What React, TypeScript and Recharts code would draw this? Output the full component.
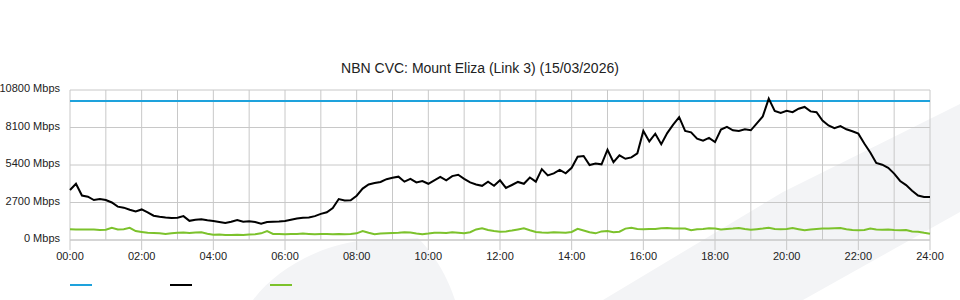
import { LineChart, Line, XAxis, YAxis, CartesianGrid, ReferenceLine } from 'recharts';

const TITLE = 'NBN CVC: Mount Eliza (Link 3) (15/03/2026)';

// capacity of the link (blue), Mbps
const CAPACITY_MBPS = 10000;

// total traffic (black), Mbps, one value every 10 minutes from 00:00 to 24:00
const traffic = [
    3600, 4050, 3200, 3120, 2880, 2950,
    2880, 2700, 2400, 2330, 2180, 2060,
    2200, 1990, 1750, 1680, 1620, 1580,
    1600, 1720, 1380, 1450, 1500, 1420,
    1370, 1300, 1220, 1320, 1440, 1320,
    1350, 1300, 1180, 1300, 1320, 1330,
    1370, 1460, 1550, 1610, 1620, 1720,
    1880, 2000, 2300, 2950, 2850, 2860,
    3190, 3700, 4000, 4100, 4180, 4380,
    4480, 4560, 4200, 4400, 4150, 4250,
    4050, 4300, 4550, 4300, 4600, 4700,
    4400, 4150, 4000, 3900, 4200, 3900,
    4300, 3750, 3960, 4180, 4050, 4500,
    4200, 5100, 4650, 4800, 5040, 4800,
    5200, 6000, 6050, 5400, 5500, 5450,
    6500, 5600, 6100, 5850, 5950, 6240,
    7850, 7100, 7650, 6900, 7700, 8300,
    8850, 7850, 7750, 7300, 7150, 7350,
    7050, 7950, 8140, 7900, 7850, 7970,
    7900, 8400, 8900, 10180, 9300, 9150,
    9300, 9200, 9450, 9580, 9260, 9200,
    8600, 8250, 8050, 8200, 7970, 7830,
    7660, 6950, 6300, 5550, 5420, 5200,
    4780, 4250, 3950, 3550, 3200, 3100,
    3100,
];

// upload / other (green), Mbps, same 10 minute steps
const upload = [
    770, 760, 760, 760, 750, 720,
    740, 880, 760, 780, 880, 640,
    580, 520, 500, 480, 430, 480,
    520, 540, 500, 540, 560, 450,
    380, 400, 360, 360, 380, 360,
    400, 420, 480, 640, 440, 430,
    420, 430, 440, 460, 440, 420,
    440, 430, 420, 440, 420, 430,
    480, 650, 520, 420, 460, 480,
    500, 520, 560, 540, 470, 420,
    460, 520, 530, 500, 560, 520,
    480, 560, 760, 840, 720, 650,
    600, 620, 680, 760, 840, 700,
    580, 540, 520, 560, 540, 520,
    580, 800, 680, 560, 480, 620,
    650, 560, 600, 820, 880, 800,
    770, 790, 800, 840, 860, 820,
    830, 820, 700, 780, 800, 840,
    820, 760, 800, 820, 860, 790,
    740, 780, 820, 880, 800, 770,
    800, 860, 780, 700, 760, 800,
    820, 820, 840, 860, 780, 720,
    700, 720, 820, 760, 740, 760,
    720, 700, 720, 620, 600, 520,
    450,
];

const yTicks = [0, 2700, 5400, 8100, 10800];
const xTicks = [0, 120, 240, 360, 480, 600, 720, 840, 960, 1080, 1200, 1320, 1440];
const xLabels = ['00:00', '02:00', '04:00', '06:00', '08:00', '10:00', '12:00', '14:00', '16:00', '18:00', '20:00', '22:00', '24:00'];
const hourLines = Array.from({ length: 25 }, (_, h) => h * 60);

const series = [
    { key: 'capacity', color: '#1ea2dc' },
    { key: 'traffic', color: '#000000' },
    { key: 'upload', color: '#7cc22c' },
];

const rows = traffic.map((v, i) => ({
    t: i * 10,
    traffic: v,
    upload: upload[i],
}));

const font = '"Liberation Sans", Arial, sans-serif';

function MbpsTick(props: any) {
    const { x, y, payload } = props;
    return (
        <text x={x} y={y} dy={2} textAnchor="end" fontSize={11} fill="#222" fontFamily={font}>
            {`${payload.value} Mbps`}
        </text>
    );
}

export default function App() {
    return (
        <div style={{ position: 'absolute', left: 0, top: 0, width: 960, height: 300, background: '#fff', fontFamily: font, overflow: 'hidden' }}>
            {/* faint watermark behind the plot */}
            <svg width={960} height={300} style={{ position: 'absolute', left: 0, top: 0 }}>
                <path d="M253 300 C 275 270, 320 245, 360 241 L 418 238 C 430 250, 445 270, 455 300 Z" fill="#f3f4f6" />
                <path d="M603 300 L 783 192 L 960 104 L 960 212 L 803 300 Z" fill="#f3f4f6" />
            </svg>

            <div style={{ position: 'absolute', top: 60, left: 0, width: 960, textAlign: 'center', fontSize: 14, color: '#222' }}>
                {TITLE}
            </div>

            <div style={{ position: 'absolute', left: 0, top: 0 }}>
                <LineChart width={960} height={300} data={rows} margin={{ top: 90, right: 30, left: 0, bottom: 40 }}>
                    <CartesianGrid stroke="#c8c8c8" verticalValues={hourLines} />
                    <XAxis
                        dataKey="t"
                        type="number"
                        domain={[0, 1440]}
                        ticks={xTicks}
                        tickFormatter={(v) => xLabels[xTicks.indexOf(Number(v))] ?? ''}
                        tick={{ fontSize: 11, fill: '#222', fontFamily: font }}
                        tickSize={10}
                        tickMargin={2}
                        height={20}
                        stroke="#c8c8c8"
                        interval={0}
                    />
                    <YAxis
                        type="number"
                        domain={[0, 10800]}
                        ticks={yTicks}
                        tick={<MbpsTick />}
                        axisLine={false}
                        tickLine={false}
                        tickSize={0}
                        tickMargin={10}
                        width={70}
                        interval={0}
                    />
                    <ReferenceLine y={CAPACITY_MBPS} stroke={series[0].color} strokeWidth={2} />
                    <Line dataKey="upload" stroke={series[2].color} strokeWidth={2} dot={false} isAnimationActive={false} type="linear" />
                    <Line dataKey="traffic" stroke={series[1].color} strokeWidth={2} dot={false} isAnimationActive={false} type="linear" />
                </LineChart>
            </div>

            <div style={{ position: 'absolute', left: 70, top: 284, display: 'flex' }}>
                {series.map((s) => (
                    <div key={s.key} style={{ width: 100 }}>
                        <div style={{ width: 22, height: 2, background: s.color }} />
                    </div>
                ))}
            </div>
        </div>
    );
}
